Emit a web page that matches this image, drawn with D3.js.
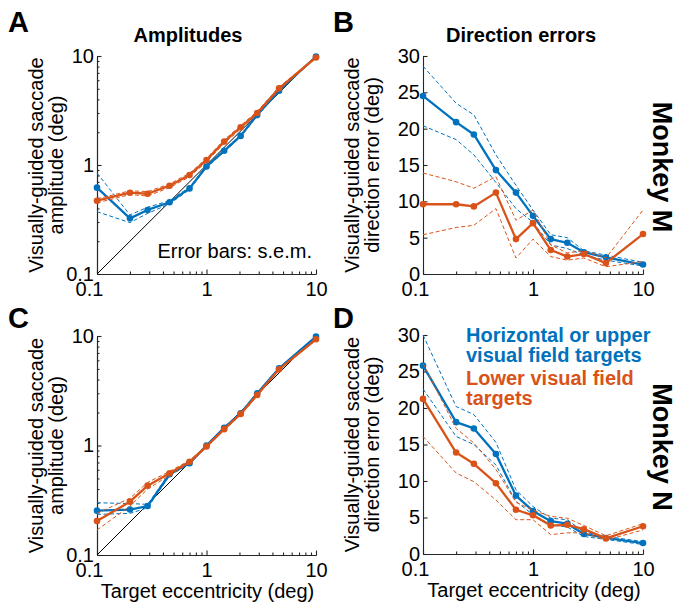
<!DOCTYPE html>
<html>
<head>
<meta charset="utf-8">
<script src="https://cdn.jsdelivr.net/npm/d3@7"></script>
<style>
body { margin: 0; background: #fff; }
text { font-family: "Liberation Sans", Arial, Helvetica, sans-serif; fill: #000; }
</style>
</head>
<body>
<svg id="fig" width="678" height="605"></svg>
<script>
// target eccentricities (deg)
var ecc = [0.1, 0.2, 0.29, 0.46, 0.7, 1, 1.45, 2.05, 2.9, 4.6, 10]

// Monkey M, amplitudes
var ampM_up = [0.62, 0.324, 0.387, 0.455, 0.61, 0.97, 1.35, 1.85, 2.87, 4.8, 9.9]
var ampM_upHi = [0.845, 0.348, 0.41, 0.47, 0.625, 0.99, 1.38, 1.89, 2.92, 4.88, 10.0]
var ampM_upLo = [0.373, 0.296, 0.36, 0.44, 0.595, 0.95, 1.32, 1.81, 2.82, 4.72, 9.8]
var ampM_low = [0.47, 0.557, 0.545, 0.646, 0.81, 1.11, 1.64, 2.22, 3.0, 5.05, 9.7]
var ampM_lowHi = [0.49, 0.58, 0.57, 0.67, 0.84, 1.15, 1.7, 2.3, 3.1, 5.2, 9.85]
var ampM_lowLo = [0.45, 0.535, 0.52, 0.62, 0.78, 1.07, 1.58, 2.14, 2.9, 4.9, 9.55]

// Monkey M, direction errors
var dirM_up = [24.5, 20.9, 19.2, 14.3, 11.2, 8.0, 4.8, 4.3, 3.0, 2.3, 1.3]
var dirM_upHi = [28.6, 23.5, 21.9, 16.4, 12.2, 8.8, 5.4, 5.0, 3.2, 2.6, 1.6]
var dirM_upLo = [20.4, 18.5, 16.4, 12.6, 9.0, 7.1, 4.0, 3.5, 2.6, 1.9, 1.1]
var dirM_low = [9.6, 9.6, 9.3, 11.2, 4.8, 7.0, 3.3, 2.4, 2.75, 1.5, 5.5]
var dirM_lowHi = [13.9, 12.7, 11.8, 13.4, 7.4, 8.8, 4.0, 2.9, 3.2, 2.2, 8.8]
var dirM_lowLo = [5.4, 6.4, 6.7, 9.0, 2.2, 4.8, 2.4, 1.9, 2.2, 1.0, 1.7]

// Monkey N, amplitudes
var ampN_up = [0.254, 0.26, 0.28, 0.546, 0.69, 1.0, 1.45, 1.97, 2.99, 5.07, 9.86]
var ampN_upHi = [0.30, 0.295, 0.29, 0.56, 0.705, 1.02, 1.48, 2.01, 3.05, 5.15, 9.95]
var ampN_upLo = [0.235, 0.24, 0.27, 0.53, 0.675, 0.98, 1.42, 1.93, 2.93, 4.99, 9.77]
var ampN_low = [0.204, 0.307, 0.43, 0.557, 0.71, 0.98, 1.41, 1.94, 2.89, 4.96, 9.33]
var ampN_lowHi = [0.24, 0.33, 0.46, 0.58, 0.73, 1.0, 1.44, 1.98, 2.95, 5.05, 9.45]
var ampN_lowLo = [0.169, 0.28, 0.40, 0.535, 0.69, 0.96, 1.38, 1.9, 2.83, 4.87, 9.2]

// Monkey N, direction errors
var dirN_up = [25.8, 18.06, 17.2, 13.7, 8.0, 5.9, 4.5, 4.15, 2.75, 2.2, 1.5]
var dirN_upHi = [30, 20.2, 19.1, 15.3, 8.8, 6.5, 4.9, 4.7, 3.0, 2.4, 1.7]
var dirN_upLo = [22.6, 16.1, 15.0, 12.2, 7.2, 5.4, 4.0, 3.7, 2.4, 2.0, 1.3]
var dirN_low = [21.25, 13.9, 12.36, 9.7, 6.06, 5.3, 3.9, 4.0, 3.4, 2.14, 3.8]
var dirN_lowHi = [26.1, 17.2, 15.2, 11.6, 7.1, 6.0, 5.15, 4.9, 3.9, 2.5, 4.15]
var dirN_lowLo = [16.1, 11.1, 9.9, 7.4, 4.7, 4.7, 2.65, 2.9, 2.9, 1.9, 3.3]

var logMajor = [0.1, 1, 10]
var logMinor = [0.2, 0.3, 0.4, 0.5, 0.6, 0.7, 0.8, 0.9, 2, 3, 4, 5, 6, 7, 8, 9]
var linTicks = [0, 5, 10, 15, 20, 25, 30]

var blue = "#0072BD"
var orange = "#D95319"
var axisColor = "#262626"

var svg = d3.select("#fig")
svg.append("rect").attr("width", 678).attr("height", 605).attr("fill", "#fff")

function drawPanel(p) {
    var g = svg.append("g")
    var x = d3.scaleLog().domain([0.1, 10]).range([p.left, p.right])
    var y = p.log ? d3.scaleLog().domain([0.1, 10]) : d3.scaleLinear().domain([0, 30])
    y.range([p.bottom, p.top])

    // x axis
    g.append("g").attr("transform", "translate(0," + p.bottom + ")")
        .call(d3.axisBottom(x).tickValues(logMinor).tickSize(-2.5).tickSizeOuter(0).tickFormat(""))
    var xMajor = g.append("g").attr("transform", "translate(0," + p.bottom + ")")
        .call(d3.axisBottom(x).tickValues(logMajor).tickSize(-4.5).tickSizeOuter(0)
            .tickPadding(8).tickFormat(d3.format("~g")))
    xMajor.selectAll("text").attr("dx", function(d) { return d === 0.1 ? -8 : 0 })

    // y axis
    if (p.log) {
        g.append("g").attr("transform", "translate(" + p.left + ",0)")
            .call(d3.axisLeft(y).tickValues(logMinor).tickSize(-2.5).tickSizeOuter(0).tickFormat(""))
        g.append("g").attr("transform", "translate(" + p.left + ",0)")
            .call(d3.axisLeft(y).tickValues(logMajor).tickSize(-4.5).tickSizeOuter(0)
                .tickPadding(3).tickFormat(d3.format("~g")))
    } else {
        g.append("g").attr("transform", "translate(" + p.left + ",0)")
            .call(d3.axisLeft(y).tickValues(linTicks).tickSize(-4.5).tickSizeOuter(0).tickPadding(3))
    }

    g.selectAll(".domain, .tick line").attr("stroke", axisColor).attr("stroke-width", 1.1)
    g.selectAll(".tick text").attr("font-size", 20).attr("fill", "#000")
        .attr("font-family", "'Liberation Sans', Arial, sans-serif")

    if (p.log) {
        g.append("line")
            .attr("x1", x(0.1)).attr("y1", y(0.1))
            .attr("x2", x(10)).attr("y2", y(10))
            .attr("stroke", "#000").attr("stroke-width", 1)
    }

    var line = d3.line()
        .x(function(d) { return x(d[0]) })
        .y(function(d) { return y(d[1]) })

    p.series.forEach(function(s) {
        [s.hi, s.lo].forEach(function(vals) {
            g.append("path")
                .datum(d3.zip(ecc, vals))
                .attr("d", line)
                .attr("fill", "none")
                .attr("stroke", s.color)
                .attr("stroke-width", 1)
                .attr("stroke-dasharray", "4,2.5")
        })
        g.append("path")
            .datum(d3.zip(ecc, s.mean))
            .attr("d", line)
            .attr("fill", "none")
            .attr("stroke", s.color)
            .attr("stroke-width", 2.3)
            .attr("stroke-linejoin", "round")
        g.selectAll(null)
            .data(d3.zip(ecc, s.mean)).enter()
            .append("circle")
            .attr("cx", function(d) { return x(d[0]) })
            .attr("cy", function(d) { return y(d[1]) })
            .attr("r", 3.3)
            .attr("fill", s.color)
    })

    // y label (two lines)
    var yl = g.append("text")
        .attr("transform", "translate(" + p.ylabX + "," + ((p.top + p.bottom) / 2) + ") rotate(-90)")
        .attr("text-anchor", "middle")
        .attr("font-size", 20)
    yl.append("tspan").attr("x", 0).attr("y", 0).text(p.ylab[0])
    yl.append("tspan").attr("x", 0).attr("y", 20).text(p.ylab[1])

    if (p.xlab) {
        g.append("text")
            .attr("x", (p.left + p.right) / 2 + 1)
            .attr("y", p.bottom + 43)
            .attr("text-anchor", "middle")
            .attr("font-size", 20)
            .text(p.xlab)
    }

    g.append("text")
        .attr("x", p.letterX).attr("y", p.letterY)
        .attr("font-size", 29).attr("font-weight", "bold")
        .text(p.letter)
}

drawPanel({
    letter: "A", letterX: 8, letterY: 32,
    left: 97, right: 316, top: 56, bottom: 274, log: true, ylabX: 43,
    ylab: ["Visually-guided saccade", "amplitude (deg)"],
    series: [
        {mean: ampM_up, hi: ampM_upHi, lo: ampM_upLo, color: blue},
        {mean: ampM_low, hi: ampM_lowHi, lo: ampM_lowLo, color: orange}
    ]
})
drawPanel({
    letter: "B", letterX: 333, letterY: 32,
    left: 423, right: 643, top: 56, bottom: 274, log: false, ylabX: 359,
    ylab: ["Visually-guided saccade", "direction error (deg)"],
    series: [
        {mean: dirM_up, hi: dirM_upHi, lo: dirM_upLo, color: blue},
        {mean: dirM_low, hi: dirM_lowHi, lo: dirM_lowLo, color: orange}
    ]
})
drawPanel({
    letter: "C", letterX: 8, letterY: 328,
    left: 97, right: 316, top: 336, bottom: 555, log: true, ylabX: 43,
    ylab: ["Visually-guided saccade", "amplitude (deg)"],
    xlab: "Target eccentricity (deg)",
    series: [
        {mean: ampN_up, hi: ampN_upHi, lo: ampN_upLo, color: blue},
        {mean: ampN_low, hi: ampN_lowHi, lo: ampN_lowLo, color: orange}
    ]
})
drawPanel({
    letter: "D", letterX: 333, letterY: 328,
    left: 423, right: 643, top: 335, bottom: 554, log: false, ylabX: 359,
    ylab: ["Visually-guided saccade", "direction error (deg)"],
    xlab: "Target eccentricity (deg)",
    series: [
        {mean: dirN_up, hi: dirN_upHi, lo: dirN_upLo, color: blue},
        {mean: dirN_low, hi: dirN_lowHi, lo: dirN_lowLo, color: orange}
    ]
})

// titles
svg.append("text").attr("x", 188).attr("y", 42).attr("text-anchor", "middle")
    .attr("font-size", 20).attr("font-weight", "bold").text("Amplitudes")
svg.append("text").attr("x", 521).attr("y", 42).attr("text-anchor", "middle")
    .attr("font-size", 20).attr("font-weight", "bold").text("Direction errors")

svg.append("text").attr("x", 312).attr("y", 258).attr("text-anchor", "end")
    .attr("font-size", 20).text("Error bars: s.e.m.")

// legend
var legend = [
    {lines: ["Horizontal or upper", "visual field targets"], color: blue, y: 342},
    {lines: ["Lower visual field", "targets"], color: orange, y: 385}
]
legend.forEach(function(l) {
    l.lines.forEach(function(t, i) {
        svg.append("text").attr("x", 466).attr("y", l.y + i * 19.5)
            .attr("font-size", 20).attr("font-weight", "bold")
            .style("fill", l.color).text(t)
    })
})

// monkey labels
svg.append("text").attr("transform", "translate(653,167) rotate(90)")
    .attr("text-anchor", "middle").attr("font-size", 27).attr("font-weight", "bold")
    .text("Monkey M")
svg.append("text").attr("transform", "translate(653,447) rotate(90)")
    .attr("text-anchor", "middle").attr("font-size", 27).attr("font-weight", "bold")
    .text("Monkey N")
</script>
</body>
</html>
